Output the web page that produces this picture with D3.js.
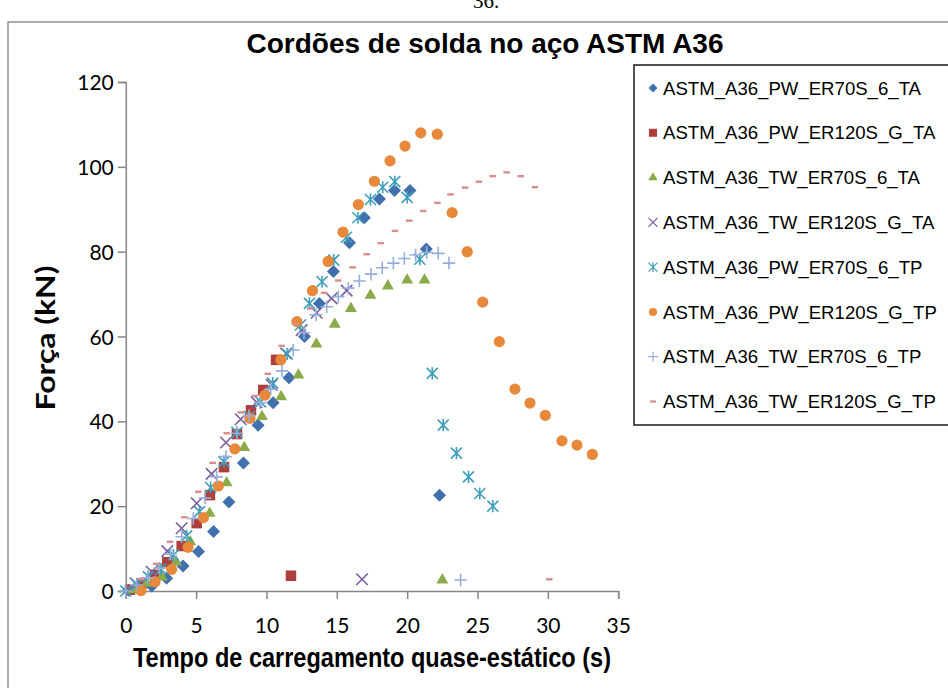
<!DOCTYPE html>
<html>
<head>
<meta charset="utf-8">
<script src="https://cdn.jsdelivr.net/npm/d3@7"></script>
<style>
  html, body { margin: 0; padding: 0; background: #fff; }
  svg { display: block; }
</style>
</head>
<body>
<svg id="chart" width="948" height="688"></svg>
<script>
// Força x tempo — ensaios quase-estáticos dos cordões de solda (pares [tempo s, força kN])
const seriesNames = [
  "ASTM_A36_PW_ER70S_6_TA",
  "ASTM_A36_PW_ER120S_G_TA",
  "ASTM_A36_TW_ER70S_6_TA",
  "ASTM_A36_TW_ER120S_G_TA",
  "ASTM_A36_PW_ER70S_6_TP",
  "ASTM_A36_PW_ER120S_G_TP",
  "ASTM_A36_TW_ER70S_6_TP",
  "ASTM_A36_TW_ER120S_G_TP"
];

const pwEr70s6TA = [[0.2,0.2],[1.0,0.6],[1.85,1.2],[2.9,3.0],[4.07,5.9],[5.17,9.3],[6.24,14.0],[7.33,21.0],[8.36,30.2],[9.4,39.1],[10.47,44.4],[11.6,50.3],[12.7,60.0],[13.76,67.8],[14.76,75.3],[15.9,82.1],[16.96,88.0],[18.03,92.4],[19.1,94.4],[20.2,94.4],[21.36,80.6],[22.3,22.6]];
const pwEr120sGTA = [[0.3,0.3],[1.12,1.8],[2.1,3.8],[2.95,6.8],[3.97,10.6],[5.04,16.0],[5.98,22.6],[6.98,29.2],[7.9,37.0],[8.9,42.6],[9.77,47.4],[10.68,54.5],[11.74,3.6]];
const twEr70s6TA = [[0.55,0.3],[1.5,1.8],[2.57,3.3],[3.58,6.8],[4.58,11.6],[5.96,18.3],[7.17,25.5],[8.42,33.8],[9.68,41.1],[11.04,45.8],[12.27,50.9],[13.55,58.2],[14.85,62.9],[16.0,66.6],[17.39,69.7],[18.63,71.9],[20.0,73.3],[21.23,73.3],[22.5,2.6]];
const twEr120sGTA = [[0.7,1.8],[1.84,4.55],[2.95,9.4],[3.97,14.8],[5.04,20.7],[6.1,27.6],[7.12,35.0],[8.17,40.5],[9.3,44.5],[10.37,48.6],[11.39,56.0],[12.5,61.5],[13.57,65.6],[14.63,69.0],[15.7,70.8],[16.79,2.76]];
const pwEr70s6TP = [[0,0],[0.8,1.5],[1.6,3.4],[2.5,5.2],[3.38,8.5],[4.33,13.0],[5.24,18.7],[6.03,24.4],[6.98,30.5],[7.9,37.4],[8.8,41.1],[9.57,44.6],[10.44,49.0],[11.47,55.9],[12.41,62.7],[13.05,67.8],[13.95,72.9],[14.78,78.0],[15.68,83.4],[16.5,88.0],[17.39,92.3],[18.26,95.2],[19.12,96.5],[20.0,92.8],[20.9,78.2],[21.78,51.3],[22.56,39.1],[23.5,32.5],[24.36,26.9],[25.16,23.0],[26.09,20.0]];
const pwEr120sGTP = [[1.08,0.1],[2.08,2.2],[3.26,5.1],[4.42,10.3],[5.52,17.3],[6.58,24.75],[7.75,33.5],[8.83,40.7],[9.9,46.2],[11.02,54.5],[12.16,63.5],[13.27,70.8],[14.38,77.7],[15.44,84.6],[16.53,91.1],[17.67,96.6],[18.78,101.4],[19.85,104.9],[20.97,108.0],[22.14,107.7],[23.2,89.2],[24.27,80.0],[25.37,68.1],[26.55,58.8],[27.66,47.6],[28.73,44.3],[29.82,41.4],[31.0,35.4],[32.07,34.4],[33.16,32.2]];
const twEr70s6TP = [[0,0],[0.76,1.4],[1.56,3.1],[2.38,5.35],[3.18,8.7],[3.97,12.8],[4.8,17.1],[5.63,21.9],[6.46,26.9],[7.12,31.7],[7.9,37.2],[8.76,41.3],[9.54,44.4],[10.3,47.6],[11.1,51.9],[11.9,56.8],[12.67,60.9],[13.52,65.1],[14.28,67.0],[15.1,69.4],[15.82,71.4],[16.6,73.1],[17.43,74.7],[18.23,76.2],[19.02,77.3],[19.8,78.4],[20.6,79.2],[21.39,79.8],[22.21,79.6],[22.97,77.3],[23.8,2.6]];
const twEr120sGTP = [[1.08,2.8],[2.15,6.4],[3.14,11.6],[4.16,17.4],[5.15,23.4],[6.18,30.2],[7.17,37.2],[8.17,42.1],[9.18,46.0],[10.09,51.2],[11.08,57.8],[12.08,62.9],[13.11,66.6],[14.09,70.3],[15.1,73.2],[16.12,76.3],[17.12,79.4],[18.12,82.0],[19.13,84.9],[20.15,87.3],[21.14,89.6],[22.15,91.5],[23.08,93.5],[24.11,95.1],[25.1,96.5],[26.08,97.8],[27.07,98.7],[28.08,97.8],[29.08,95.2],[30.1,2.76]];

const xTicks = [0, 5, 10, 15, 20, 25, 30, 35];
const yTicks = [0, 20, 40, 60, 80, 100, 120];

const seriesData = [pwEr70s6TA, pwEr120sGTA, twEr70s6TA, twEr120sGTA, pwEr70s6TP, pwEr120sGTP, twEr70s6TP, twEr120sGTP];

// Custom marker shapes (size = area, as in d3.symbol)
const symX = { draw(ctx, size) { const r = Math.sqrt(size) / 2; ctx.moveTo(-r, -r); ctx.lineTo(r, r); ctx.moveTo(-r, r); ctx.lineTo(r, -r); } };
const symPlus = { draw(ctx, size) { const r = Math.sqrt(size) / 2; ctx.moveTo(-r, 0); ctx.lineTo(r, 0); ctx.moveTo(0, -r); ctx.lineTo(0, r); } };
const symStar = { draw(ctx, size) { const r = Math.sqrt(size) / 2; ctx.moveTo(-r, -r); ctx.lineTo(r, r); ctx.moveTo(-r, r); ctx.lineTo(r, -r); ctx.moveTo(0, -r * 1.1); ctx.lineTo(0, r * 1.1); } };
const symDash = { draw(ctx, size) { const w = Math.sqrt(size) / 2, h = w * 0.38; ctx.moveTo(-w, -h); ctx.lineTo(w, -h); ctx.lineTo(w, h); ctx.lineTo(-w, h); ctx.closePath(); } };
const symRhomb = { draw(ctx, size) { const r = Math.sqrt(size) / 2; ctx.moveTo(0, -r); ctx.lineTo(r, 0); ctx.lineTo(0, r); ctx.lineTo(-r, 0); ctx.closePath(); } };

const markerStyles = [
  { type: symRhomb, size: 13 * 13, fill: "#4170AE", stroke: null, lsize: 9 * 9 },
  { type: d3.symbolSquare, size: 10.5 * 10.5, fill: "#AE3F3C", stroke: null, lsize: 8 * 8 },
  { type: d3.symbolTriangle, size: 62, fill: "#8BAB4B", stroke: null, lsize: 38 },
  { type: symX, size: 11.5 * 11.5, fill: "none", stroke: "#7A5C9C", sw: 1.6, lsize: 9 * 9 },
  { type: symStar, size: 11 * 11, fill: "none", stroke: "#3E9FBA", sw: 1.6, lsize: 9 * 9 },
  { type: d3.symbolCircle, size: Math.PI * 5.6 * 5.6, fill: "#E7883B", stroke: null, lsize: Math.PI * 16 },
  { type: symPlus, size: 12.5 * 12.5, fill: "none", stroke: "#97AEDA", sw: 1.6, lsize: 10 * 10 },
  { type: symDash, size: 6.5 * 6.5, fill: "#D8908E", stroke: null, lsize: 6 * 6 }
];

const svg = d3.select("#chart");

// Page number fragment above the chart frame
svg.append("text").attr("x", 486).attr("y", 8)
  .attr("text-anchor", "middle").attr("font-family", "Liberation Serif")
  .attr("font-size", 21).attr("fill", "#000").text("36.");

// Chart frame
svg.append("rect").attr("x", 8).attr("y", 22).attr("width", 960).attr("height", 700)
  .attr("fill", "#fff").attr("stroke", "#808080").attr("stroke-width", 1.3);

// Title
svg.append("text").attr("x", 485).attr("y", 53)
  .attr("text-anchor", "middle").attr("font-family", "Liberation Sans").attr("font-weight", "bold")
  .attr("font-size", 28).attr("textLength", 477).attr("lengthAdjust", "spacingAndGlyphs")
  .attr("fill", "#000").text("Cordões de solda no aço ASTM A36");

const x = d3.scaleLinear().domain([0, 35]).range([125.8, 618.2]);
const y = d3.scaleLinear().domain([0, 120]).range([591, 82]);

const axisColor = "#868686";

const gx = svg.append("g").attr("transform", `translate(0,${y(0)})`)
  .call(d3.axisBottom(x).tickValues(xTicks).tickSize(8).tickPadding(10).tickFormat(d3.format("d")));
const gy = svg.append("g").attr("transform", `translate(${x(0)},0)`)
  .call(d3.axisLeft(y).tickValues(yTicks).tickSize(8).tickPadding(4).tickFormat(d3.format("d")));

[gx, gy].forEach(g => {
  g.select(".domain").attr("stroke", axisColor).attr("stroke-width", 1.5);
  g.selectAll(".tick line").attr("stroke", axisColor).attr("stroke-width", 1.5);
  g.selectAll(".tick text").attr("fill", "#000").attr("font-family", "Lato, 'Open Sans', sans-serif").attr("font-size", 21);
});
gx.selectAll(".tick text").attr("y", 42).attr("dy", 0);
gy.selectAll(".tick text").attr("dy", "0.36em");

// Axis titles
svg.append("text").attr("x", 372).attr("y", 667)
  .attr("text-anchor", "middle").attr("font-family", "Liberation Sans").attr("font-weight", "bold")
  .attr("font-size", 28).attr("textLength", 478).attr("lengthAdjust", "spacingAndGlyphs")
  .attr("fill", "#000").text("Tempo de carregamento  quase-estático (s)");

svg.append("text").attr("transform", "translate(55,338) rotate(-90)")
  .attr("text-anchor", "middle").attr("font-family", "Lato, 'Open Sans', sans-serif").attr("font-weight", "bold")
  .attr("font-size", 26).attr("textLength", 145).attr("lengthAdjust", "spacingAndGlyphs")
  .attr("fill", "#000").text("Força (kN)");

// Data points, one group per series
const sym = d3.symbol();
seriesData.forEach((data, i) => {
  const st = markerStyles[i];
  svg.append("g").attr("class", "series s" + i)
    .selectAll("path").data(data).join("path")
    .attr("transform", d => `translate(${x(d[0])},${y(d[1])})`)
    .attr("d", sym.type(st.type).size(st.size)())
    .attr("fill", st.fill)
    .attr("stroke", st.stroke || "none")
    .attr("stroke-width", st.sw || 0);
});

// Legend
const legend = svg.append("g");
legend.append("rect").attr("x", 634).attr("y", 65).attr("width", 330).attr("height", 360)
  .attr("fill", "#fff").attr("stroke", "#1a1a1a").attr("stroke-width", 1.5);
const legendY = d3.scalePoint().domain(seriesNames).range([88, 401.5]);
seriesNames.forEach((name, i) => {
  const st = markerStyles[i];
  const ly = legendY(name);
  legend.append("path")
    .attr("transform", `translate(653,${ly})`)
    .attr("d", d3.symbol().type(st.type).size(st.lsize)())
    .attr("fill", st.fill).attr("stroke", st.stroke || "none").attr("stroke-width", st.sw ? 1.2 : 0);
  legend.append("text").attr("x", 663).attr("y", ly + 6.6)
    .attr("font-family", "Liberation Sans").attr("font-size", 18.6).attr("fill", "#000").text(name);
});
</script>
</body>
</html>
